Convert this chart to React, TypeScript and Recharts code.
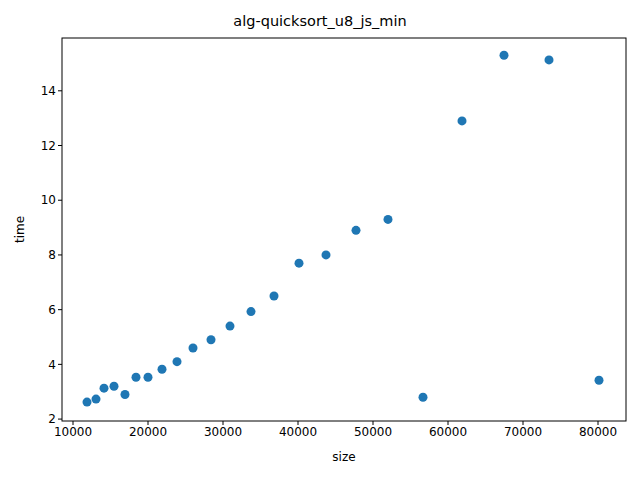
import React from "react";
import { ScatterChart, Scatter, XAxis, YAxis, Label } from "recharts";

const sizes = [11867, 13067, 14133, 15467, 16933, 18400, 20000, 21867, 23867, 26000, 28400, 30933, 33733, 36800, 40133, 43733, 47733, 52000, 56667, 61867, 67467, 73467, 80133];
const times = [2.62, 2.73, 3.13, 3.2, 2.9, 3.53, 3.53, 3.82, 4.1, 4.6, 4.9, 5.4, 5.93, 6.5, 7.7, 8.0, 8.9, 9.3, 2.8, 12.9, 15.3, 15.13, 3.42];
const xTicks = [10000, 20000, 30000, 40000, 50000, 60000, 70000, 80000];
const yTicks = [2, 4, 6, 8, 10, 12, 14];

const data = sizes.map((s, i) => ({ size: s, time: times[i] }));
const font = "DejaVu Sans";

export default function App() {
  return (
    <div style={{ position: "absolute", left: 0, top: 0, width: 640, height: 480, background: "#fff", fontFamily: font }}>
      <div style={{ position: "absolute", top: 13, width: 640, textAlign: "center", fontSize: 14.5 }}>alg-quicksort_u8_js_min</div>
      <ScatterChart width={640} height={480} margin={{ top: 38, right: 14, bottom: 0, left: 0 }}>
        <XAxis type="number" dataKey="size" domain={[8533, 83733]} ticks={xTicks} height={59}
          stroke="#000" tick={{ fill: "#000", fontSize: 12, fontFamily: font }} tickSize={4} axisLine={false}>
          <Label value="size" position="insideBottom" offset={19} style={{ fill: "#000", fontSize: 12, fontFamily: font }} />
        </XAxis>
        <YAxis type="number" dataKey="time" domain={[1.93, 15.93]} ticks={yTicks} width={62}
          stroke="#000" tick={{ fill: "#000", fontSize: 12, fontFamily: font }} tickSize={4} axisLine={false}>
          <Label value="time" angle={-90} position="insideLeft" offset={20} style={{ fill: "#000", fontSize: 12, fontFamily: font, textAnchor: "middle" }} />
        </YAxis>
        <Scatter data={data} fill="#1f77b4" isAnimationActive={false}
          shape={(p: any) => <circle cx={p.cx} cy={p.cy} r={4.5} fill="#1f77b4" />} />
        <rect x={62} y={38} width={564} height={383} fill="none" stroke="#000" strokeWidth={1} />
      </ScatterChart>
    </div>
  );
}
